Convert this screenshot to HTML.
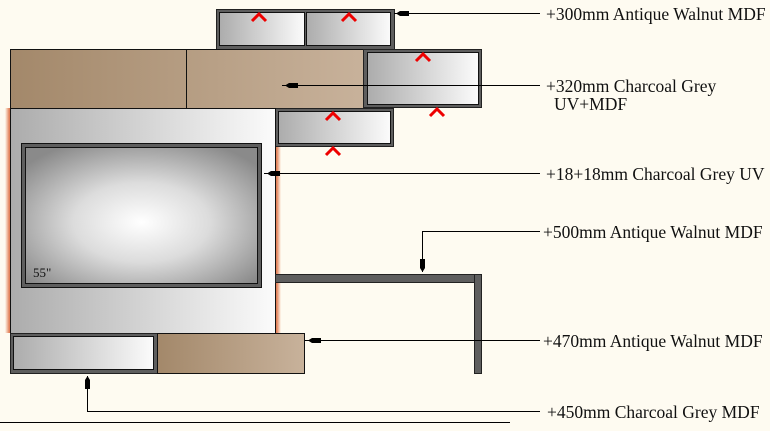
<!DOCTYPE html>
<html><head><meta charset="utf-8"><style>
html,body{margin:0;padding:0;background:#fefbf1;}
svg{display:block;}
text{font-family:"Liberation Serif",serif;font-size:17.5px;fill:#111;}
</style></head><body>
<svg width="770" height="431" viewBox="0 0 770 431" xmlns="http://www.w3.org/2000/svg">
<defs>
<linearGradient id="g" x1="0" x2="1" y1="0" y2="0"><stop offset="0" stop-color="#acacac"/><stop offset="1" stop-color="#fbfbfb"/></linearGradient>
<linearGradient id="b" x1="0" x2="1" y1="0" y2="0"><stop offset="0" stop-color="#a3886a"/><stop offset="1" stop-color="#c8b29b"/></linearGradient>
<radialGradient id="s" cx="0.5" cy="0.55" r="0.65"><stop offset="0" stop-color="#ffffff"/><stop offset="0.45" stop-color="#dcdcdc"/><stop offset="1" stop-color="#8a8a8a"/></radialGradient>
<linearGradient id="glow" x1="0" x2="1"><stop offset="0" stop-color="#fefbf1"/><stop offset="0.5" stop-color="#e07a50"/><stop offset="1" stop-color="#fefbf1"/></linearGradient>
</defs>
<rect width="770" height="431" fill="#fefbf1"/>
<rect x="5" y="108" width="9" height="225" fill="url(#glow)"/>
<rect x="272" y="108" width="9" height="225" fill="url(#glow)"/>
<rect x="216.5" y="9.5" width="178" height="40" fill="#5e5e5e" stroke="#222"/>
<rect x="219.5" y="12.5" width="85" height="33" fill="url(#g)" stroke="#111"/>
<rect x="306.5" y="12.5" width="84" height="33" fill="url(#g)" stroke="#111"/>
<rect x="10.5" y="49.5" width="355" height="59" fill="url(#b)" stroke="#111"/>
<line x1="186.5" y1="49.5" x2="186.5" y2="108.5" stroke="#111"/>
<rect x="363.5" y="49.5" width="118" height="58" fill="#5e5e5e" stroke="#222"/>
<rect x="367.5" y="52.5" width="111" height="52" fill="url(#g)" stroke="#111"/>
<rect x="275.5" y="108.5" width="118" height="38" fill="#5e5e5e" stroke="#222"/>
<rect x="278.5" y="111.5" width="112" height="32" fill="url(#g)" stroke="#111"/>
<rect x="10.5" y="108.5" width="265" height="225" fill="url(#g)" stroke="#111"/>
<rect x="21.5" y="143.5" width="240" height="144" fill="#5e5e5e" stroke="#111"/>
<rect x="25.5" y="147.5" width="232" height="136" fill="url(#s)" stroke="#111"/>
<text x="33" y="277" style="font-size:13px">55"</text>
<rect x="275.5" y="274.5" width="206" height="8" fill="#5e5e5e" stroke="#222"/>
<rect x="474.5" y="274.5" width="7" height="99" fill="#5e5e5e" stroke="#222"/>
<rect x="10.5" y="333.5" width="147" height="40" fill="#5e5e5e" stroke="#222"/>
<rect x="13.5" y="336.5" width="140" height="33" fill="url(#g)" stroke="#111"/>
<rect x="157.5" y="333.5" width="147" height="40" fill="url(#b)" stroke="#111"/>
<g stroke="#e00" stroke-width="3" fill="none">
<polyline points="252,21 259,14 266,21"/>
<polyline points="342,21 349,14 356,21"/>
<polyline points="416,61 423,54 430,61"/>
<polyline points="430,116 437,109 444,116"/>
<polyline points="326,120 333,113 340,120"/>
<polyline points="326,155 333,148 340,155"/>
</g>
<g stroke="#000" stroke-width="1" fill="none">
<line x1="394" y1="13.5" x2="540" y2="13.5"/>
<line x1="282" y1="85.5" x2="540" y2="85.5"/>
<line x1="264" y1="173.5" x2="540" y2="173.5"/>
<polyline points="540,231.5 422.5,231.5 422.5,272"/>
<line x1="305" y1="340.5" x2="540" y2="340.5"/>
<polyline points="540,411.5 87.5,411.5 87.5,376"/>
<line x1="0" y1="422.5" x2="510" y2="422.5"/>
</g>
<g fill="#000">
<polygon points="396,13.5 400,11 409,11 409,16 400,16"/>
<polygon points="285,85.5 289,83 298,83 298,88 289,88"/>
<polygon points="267,173.5 271,171 280,171 280,176 271,176"/>
<polygon points="308,340.5 312,338 321,338 321,343 312,343"/>
<polygon points="422.5,272 420,268 420,259 425,259 425,268"/>
<polygon points="87.5,376 85,380 85,389 90,389 90,380"/>
</g>
<text x="546" y="20">+300mm Antique Walnut MDF</text>
<text x="546" y="92">+320mm Charcoal Grey</text>
<text x="554" y="110">UV+MDF</text>
<text x="546" y="180">+18+18mm Charcoal Grey UV</text>
<text x="543" y="238">+500mm Antique Walnut MDF</text>
<text x="543" y="347">+470mm Antique Walnut MDF</text>
<text x="547" y="418">+450mm Charcoal Grey MDF</text>
</svg>
</body></html>
